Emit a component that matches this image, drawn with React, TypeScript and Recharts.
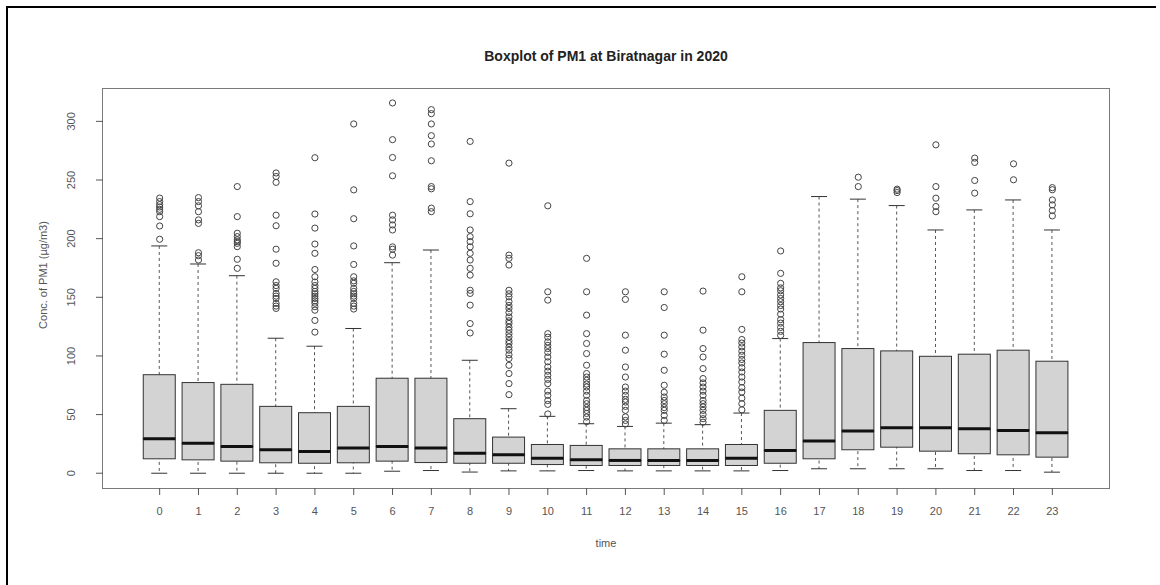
import { ComposedChart, Bar, Scatter, XAxis, YAxis } from "recharts";

const hours = [0, 1, 2, 3, 4, 5, 6, 7, 8, 9, 10, 11, 12, 13, 14, 15, 16, 17, 18, 19, 20, 21, 22, 23];

const whiskerLow = [0, 0, 0, 0, 0, 0, 1.7, 2.3, 1, 2, 2, 2.3, 2, 2, 2, 2, 2.3, 3.8, 3.8, 3.8, 3.8, 2.3, 2.3, 0.9];
const q1 = [12.3, 11.4, 10.3, 8.9, 8.5, 8.9, 10.3, 9.1, 8.5, 8.5, 7.4, 6.6, 6.6, 6.6, 6.6, 6.6, 8.5, 12.3, 20, 22.2, 18.8, 16.6, 15.7, 13.7];
const median = [29.4, 25.6, 22.8, 20, 18.5, 21.4, 22.8, 21.4, 17.1, 15.7, 12.8, 11.4, 10.9, 10.9, 10.9, 12.8, 19.4, 27.4, 35.9, 38.8, 38.8, 37.9, 36.5, 34.5];
const q3 = [84, 77.3, 75.8, 57, 51.6, 57, 81, 81, 46.5, 30.8, 24.5, 23.7, 20.8, 20.8, 20.8, 24.5, 53.6, 111.4, 106.3, 104.3, 99.7, 101.5, 104.9, 95.5];
const whiskerHigh = [193.8, 178.4, 168.4, 115.1, 108.3, 123.4, 179.5, 190.3, 96.3, 55, 48.5, 42.2, 39.9, 42.7, 41.4, 51.3, 114.8, 235.9, 233.7, 228.2, 207.4, 224.5, 233, 207.4];

// outliers per hour
const outliers: number[][] = [
  [199.5, 210.8, 218.8, 223, 225, 227, 229, 231.6, 234.6],
  [181.8, 185.5, 188, 213, 216, 223, 228, 231.6, 235],
  [174.7, 182.4, 193.2, 196, 197.5, 199, 201.7, 204.6, 218.8, 244.4],
  [140.5, 142.5, 144.8, 149, 151, 153.3, 157.6, 160, 163.2, 179, 191, 211, 220, 248, 253, 256],
  [120.3, 130.3, 139, 142, 145, 147, 149, 151, 153, 155, 157.6, 160, 163, 167.5, 173.7, 187.5, 195.4, 209, 221, 269],
  [140, 142.5, 144.8, 149, 151, 153, 155, 157.6, 161.9, 164, 167.5, 178, 193.8, 217, 241.6, 297.8],
  [186, 191, 193, 207.4, 211.7, 216, 220, 253.6, 269.2, 284.4, 315.7],
  [223, 226, 242.5, 244.4, 266.4, 280.7, 287.8, 297.8, 306.6, 310],
  [119.6, 127.6, 143.3, 153.3, 156, 168.9, 174.7, 181.8, 187.5, 193, 197.5, 201.7, 207.4, 221.2, 231.6, 282.9],
  [67, 76.4, 85, 92, 97.8, 101, 104.9, 107.5, 110.6, 113, 116.2, 119, 122, 124.5, 127.7, 130, 133.3, 137, 140.5, 143, 146.2, 150.4, 153, 156, 177.5, 183.2, 186, 264.4],
  [50.5, 58.7, 62, 66.4, 70, 76.4, 80, 83.5, 87, 90.6, 95, 99.1, 103, 106.3, 109, 112, 116, 119, 147.6, 154.7, 228],
  [44, 47.9, 51, 53.6, 56, 59.3, 62, 66.4, 70, 73.5, 76, 79.2, 82, 85, 92.1, 102, 110.6, 119, 134.8, 154.7, 183.2],
  [42, 45, 48, 53.6, 57, 60.7, 63, 66.4, 70, 73.5, 82, 90.6, 104.9, 117.7, 148.2, 154.7],
  [45, 49.3, 53.6, 56, 59.3, 62, 65, 69, 75, 87.8, 101.5, 117.7, 141.3, 154.7],
  [43.5, 46.5, 50, 53.6, 56.5, 59.3, 62, 66.4, 70, 73.5, 77, 80.7, 89.2, 99.1, 106.3, 122, 155.3],
  [54, 59.3, 64, 69.2, 73, 77.8, 82, 86.3, 90, 94, 97, 100.6, 104, 107.7, 111, 114, 122.6, 154.7, 167.5],
  [117.5, 121, 124.3, 128, 131, 135.6, 140, 143, 146.2, 149, 152, 155.6, 158, 161.9, 170.4, 189.5],
  [],
  [244.4, 252.4],
  [239.3, 241, 242.2],
  [223, 227.4, 234.5, 244.4, 280],
  [238.8, 249.6, 265, 268.7],
  [250.2, 263.8],
  [219.4, 224, 228.8, 233, 241.7, 243.5],
];

const yTicks = [0, 50, 100, 150, 200, 250, 300];

const boxRows = hours.map((h, i) => ({
  hour: h,
  whisker: [whiskerLow[i], whiskerHigh[i]],
  lower: [q1[i], median[i]],
  upper: [median[i], q3[i]],
}));

const outlierRows = hours.flatMap((h, i) => outliers[i].map((v) => ({ hour: h, value: v })));

const xDomain = [-1.46, 24.46];
const font = "'Liberation Sans', Arial, sans-serif";

function WhiskerShape(props: any) {
  const { x, y, width, height } = props;
  const top = Math.min(y, y + height);
  const bot = Math.max(y, y + height);
  const cx = x + width / 2;
  const cap = width / 4;
  return (
    <g>
      <line x1={cx} x2={cx} y1={top} y2={bot} stroke="#555" strokeDasharray="3 3" />
      <line x1={cx - cap} x2={cx + cap} y1={top} y2={top} stroke="#333" />
      <line x1={cx - cap} x2={cx + cap} y1={bot} y2={bot} stroke="#333" />
    </g>
  );
}

function LowerBox(props: any) {
  const { x, y, width, height } = props;
  return (
    <rect x={x} y={Math.min(y, y + height)} width={width} height={Math.abs(height)} fill="#d3d3d3" stroke="#333" strokeWidth={1} />
  );
}

function UpperBox(props: any) {
  const { x, y, width, height } = props;
  const top = Math.min(y, y + height);
  const bot = Math.max(y, y + height);
  return (
    <g>
      <rect x={x} y={top} width={width} height={bot - top} fill="#d3d3d3" stroke="#333" strokeWidth={1} />
      <line x1={x} x2={x + width} y1={bot} y2={bot} stroke="#111" strokeWidth={3} />
    </g>
  );
}

function OutlierDot(props: any) {
  const { cx, cy } = props;
  return <circle cx={cx} cy={cy} r={3.1} fill="none" stroke="#444" strokeWidth={1} />;
}

function YTick(props: any) {
  const { x, y, payload } = props;
  return (
    <text x={x} y={y} transform={`rotate(-90 ${x} ${y})`} textAnchor="middle" fontSize={11} fill="#555" fontFamily={font}>
      {payload.value}
    </text>
  );
}

export default function App() {
  return (
    <div style={{ position: "absolute", left: 0, top: 0, width: 1160, height: 585, background: "#fff", fontFamily: font }}>
      {/* outer frame, left and top */}
      <div style={{ position: "absolute", left: 6, top: 6, width: 1148, height: 579, borderLeft: "2px solid #000", borderTop: "2px solid #000" }} />
      <div style={{ position: "absolute", left: 0, top: 48, width: 1212, textAlign: "center", fontWeight: "bold", fontSize: 14, color: "#222" }}>
        Boxplot of PM1 at Biratnagar in 2020
      </div>
      <div style={{ position: "absolute", left: 0, top: 537, width: 1212, textAlign: "center", fontSize: 11, color: "#555" }}>time</div>
      <div
        style={{
          position: "absolute",
          left: 43 - 100,
          top: 275 - 8,
          width: 200,
          textAlign: "center",
          fontSize: 11,
          color: "#555",
          transform: "rotate(-90deg)",
          lineHeight: "16px",
        }}
      >
        Conc. of PM1 (µg/m3)
      </div>
      <div style={{ position: "absolute", left: 102, top: 88, width: 1006, height: 399, border: "1.5px solid #7a7a7a" }} />
      <div style={{ position: "absolute", left: 0, top: 0 }}>
        <ComposedChart width={1160} height={585} data={boxRows} margin={{ top: 89, right: 51, bottom: 37, left: 43 }}>
          <XAxis xAxisId="lo" type="number" dataKey="hour" domain={xDomain} allowDataOverflow hide height={0} />
          <XAxis xAxisId="hi" type="number" dataKey="hour" domain={xDomain} allowDataOverflow hide height={0} />
          <XAxis
            xAxisId="main"
            type="number"
            dataKey="hour"
            domain={xDomain}
            allowDataOverflow
            ticks={hours}
            interval={0}
            axisLine={false}
            tickSize={7}
            tickMargin={12}
            height={60}
            tickLine={{ stroke: "#555" }}
            tick={{ fontSize: 11, fill: "#555", fontFamily: font }}
          />
          <YAxis
            type="number"
            domain={[-12.6, 327.6]}
            allowDataOverflow
            ticks={yTicks}
            interval={0}
            width={60}
            axisLine={false}
            tickSize={7}
            tickMargin={21}
            tickLine={{ stroke: "#555" }}
            tick={<YTick />}
          />
          <Bar xAxisId="main" dataKey="whisker" barSize={32} shape={<WhiskerShape />} isAnimationActive={false} />
          <Bar xAxisId="lo" dataKey="lower" barSize={32} shape={<LowerBox />} isAnimationActive={false} />
          <Bar xAxisId="hi" dataKey="upper" barSize={32} shape={<UpperBox />} isAnimationActive={false} />
          <Scatter xAxisId="main" data={outlierRows} dataKey="value" shape={<OutlierDot />} isAnimationActive={false} />
        </ComposedChart>
      </div>
    </div>
  );
}
